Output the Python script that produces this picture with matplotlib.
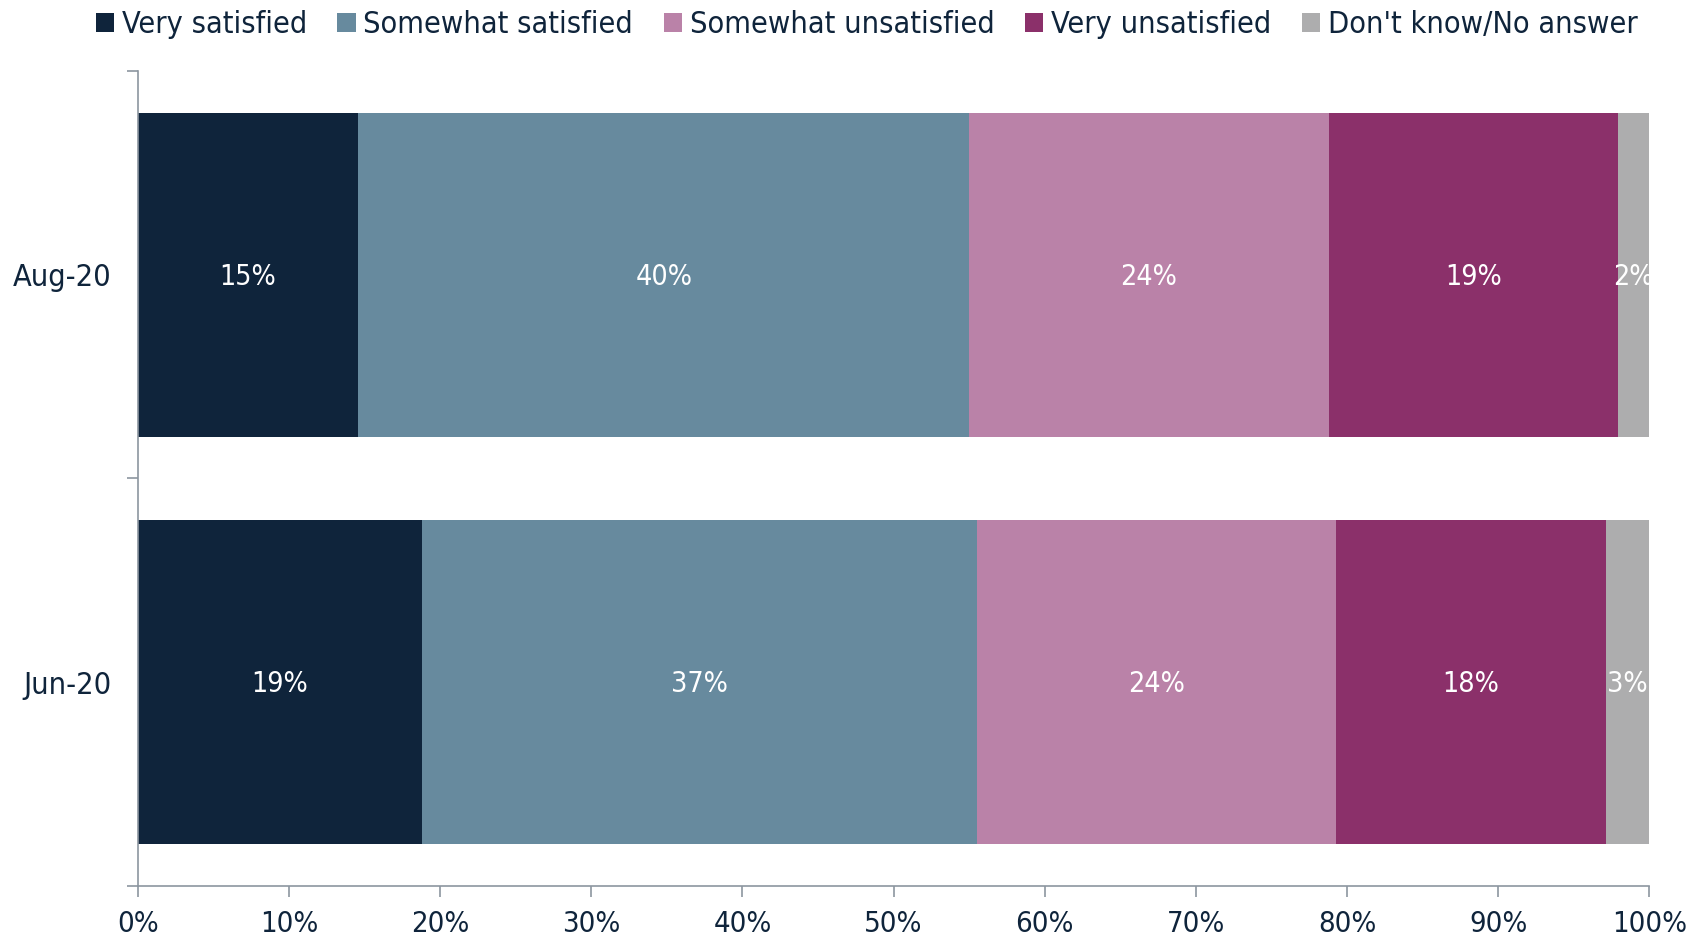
import matplotlib.pyplot as plt
from matplotlib.ticker import FixedLocator

# данные
periods = ['Jun-20', 'Aug-20']
series = ['Very satisfied', 'Somewhat satisfied', 'Somewhat unsatisfied',
          'Very unsatisfied', "Don't know/No answer"]
very_satisfied = [18.8, 14.6]
somewhat_satisfied = [36.7, 40.4]
somewhat_unsatisfied = [23.8, 23.8]
very_unsatisfied = [17.8, 19.1]
dont_know = [2.9, 2.1]
labels = [['19%', '37%', '24%', '18%', '3%'],
          ['15%', '40%', '24%', '19%', '2%']]
colors = ['#0F243B', '#678A9E', '#BA82A8', '#8B306A', '#ADADAE']

plt.rcParams['font.family'] = ['DejaVu Sans']
plt.rcParams['font.stretch'] = 'condensed'
text_color = '#0F243B'
axis_color = '#8C96A0'

fig = plt.figure(figsize=(16.88, 9.44), dpi=100)
ax = fig.add_axes([0.0816, 0.0614, 0.8955, 0.8636])

values = [very_satisfied, somewhat_satisfied, somewhat_unsatisfied,
          very_unsatisfied, dont_know]
y = list(range(len(periods)))
left = [0.0] * len(periods)
for k, vals in enumerate(values):
    ax.barh(y, vals, left=left, height=0.795, color=colors[k], label=series[k])
    for i, v in enumerate(vals):
        ax.text(left[i] + v / 2, y[i] - 0.005, labels[i][k], ha='center', va='center',
                color='white', fontsize=20.5)
    left = [l + v for l, v in zip(left, vals)]

ax.set_xlim(0, 100)
ax.set_ylim(-0.5, 1.5)
ax.set_xticks(range(0, 101, 10))
ax.set_xticklabels([f'{t}%' for t in range(0, 101, 10)], fontsize=21, color=text_color)
ax.set_yticks(y)
ax.set_yticklabels(periods, fontsize=22, color=text_color)
ax.tick_params(axis='y', which='major', length=0, pad=19)
ax.yaxis.set_minor_locator(FixedLocator([-0.5, 0.5, 1.5]))
ax.tick_params(axis='y', which='minor', length=8, color=axis_color, width=1.2)
ax.tick_params(axis='x', length=8, color=axis_color, width=1.2, pad=9)

for s in ['top', 'right']:
    ax.spines[s].set_visible(False)
for s in ['left', 'bottom']:
    ax.spines[s].set_color(axis_color)
    ax.spines[s].set_linewidth(1.2)

ax.legend(loc='center', bbox_to_anchor=(0.5134, 0.974), bbox_transform=fig.transFigure,
          ncol=5, frameon=False, fontsize=22, labelcolor=text_color,
          handlelength=0.6, handleheight=0.6, handletextpad=0.25, columnspacing=1.0)

plt.savefig('out.png', dpi=100)
